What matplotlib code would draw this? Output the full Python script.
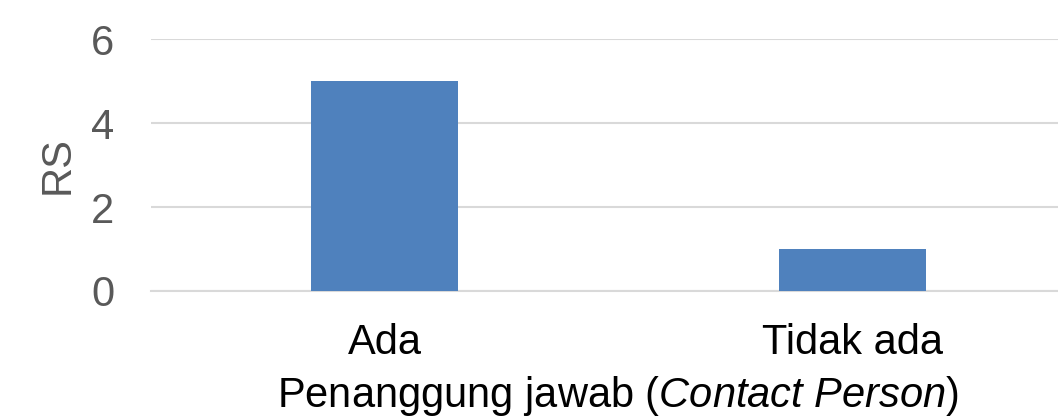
import matplotlib
matplotlib.use("Agg")
import matplotlib.pyplot as plt

categories = ["Ada", "Tidak ada"]
values = [5, 1]
yticks = [0, 2, 4, 6]

plt.rcParams['font.family'] = ['Liberation Sans', 'DejaVu Sans']
plt.rcParams['mathtext.fontset'] = 'custom'
plt.rcParams['mathtext.rm'] = 'Liberation Sans'
plt.rcParams['mathtext.it'] = 'Liberation Sans:italic'

fig = plt.figure(figsize=(10.58, 4.19), dpi=100)
ax = fig.add_axes([150.5 / 1058, 128 / 419, 936 / 1058, 252 / 419])

x = list(range(len(categories)))
ax.bar(x, values, width=0.312, color='#4F81BD', zorder=3)
ax.set_xlim(-0.5, 1.5)
ax.set_ylim(0, 6)
ax.set_yticks(yticks)
ax.set_xticks(x)
ax.set_xticklabels(categories)
ax.yaxis.grid(True, color='#D9D9D9', linewidth=1.5, zorder=0)
for s in ['top', 'right', 'left']:
    ax.spines[s].set_visible(False)
ax.spines['bottom'].set_color('#D9D9D9')
ax.spines['bottom'].set_linewidth(1.5)
ax.tick_params(axis='y', length=0, pad=26, labelsize=30, labelcolor='#595959')
ax.tick_params(axis='x', length=0, pad=23, labelsize=30, labelcolor='black')
ax.set_ylabel('RS', fontsize=30, color='#595959', labelpad=10)
ax.set_xlabel('Penanggung jawab ($\\mathit{Contact\\ Person}$)', fontsize=30, labelpad=8)

fig.savefig('out.png', dpi=100)
